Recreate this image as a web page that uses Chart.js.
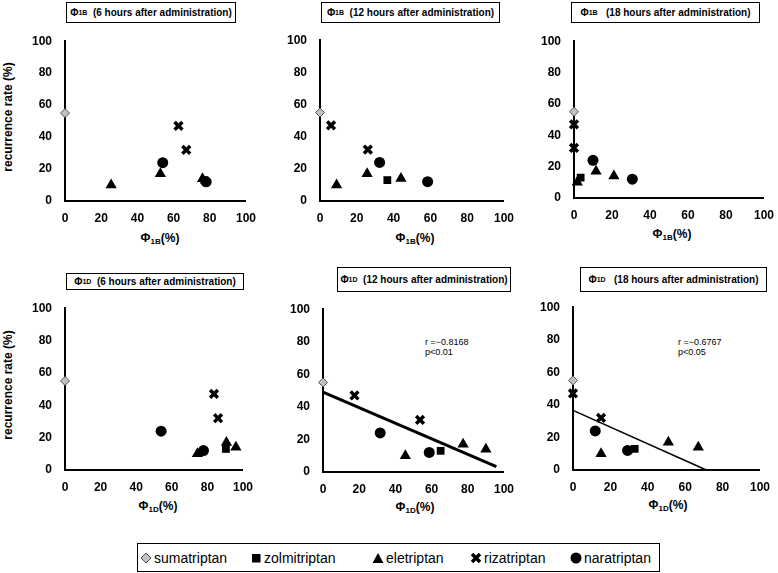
<!DOCTYPE html>
<html lang="en">
<head>
<meta charset="UTF-8" />
<title>Recurrence rate vs receptor occupancy</title>
<style>
  html, body {
    margin: 0;
    padding: 0;
    background: #fff;
    overflow: hidden;
  }
  body {
    width: 778px;
    height: 573px;
    position: relative;
    font-family: "Liberation Sans", Arial, sans-serif;
    color: #000;
  }
  canvas {
    position: absolute;
  }
  .box {
    position: absolute;
    box-sizing: border-box;
    border: 1px solid #000;
    background: #fff;
    font-weight: bold;
    font-size: 10px;
    display: flex;
    align-items: center;
    justify-content: center;
    white-space: nowrap;
  }
  sub {
    font-size: 7px;
    vertical-align: -2px;
    line-height: 0;
  }
  .xtitle {
    position: absolute;
    transform: translate(-50%, -50%);
    font-weight: bold;
    font-size: 12px;
    white-space: nowrap;
  }
  .xtitle sub {
    font-size: 8px;
  }
  .ytitle {
    position: absolute;
    transform: translate(-50%, -50%) rotate(-90deg);
    font-weight: bold;
    font-size: 12px;
    white-space: nowrap;
  }
  .note {
    position: absolute;
    font-size: 9px;
    line-height: 10px;
    white-space: nowrap;
  }
  #legend {
    position: absolute;
    left: 137px;
    top: 543px;
    width: 523px;
    height: 29px;
    box-sizing: border-box;
    border: 1.5px solid #000;
    font-size: 14px;
  }
  .item {
    position: absolute;
    top: 0;
    height: 100%;
    display: flex;
    align-items: center;
    white-space: nowrap;
  }
  .item svg {
    margin-right: 2px;
  }
</style>
</head>
<body>

<!-- panel titles -->
<div class="box" style="left:66px;top:2px;width:170px;height:21px">&Phi;<sub>1B</sub>&nbsp;&nbsp;(6 hours after administration)</div>
<div class="box" style="left:321px;top:2px;width:179px;height:21px">&Phi;<sub>1B</sub>&nbsp;&nbsp;(12 hours after administration)</div>
<div class="box" style="left:571px;top:2px;width:189px;height:21px">&Phi;<sub>1B</sub>&nbsp;&nbsp;&nbsp;(18 hours after administration)</div>
<div class="box" style="left:66px;top:273px;width:178px;height:17px">&Phi;<sub>1D</sub>&nbsp;&nbsp;(6 hours after administration)</div>
<div class="box" style="left:337px;top:267px;width:174px;height:25px">&Phi;<sub>1D</sub>&nbsp;&nbsp;(12 hours after administration)</div>
<div class="box" style="left:580px;top:267px;width:187px;height:25px">&Phi;<sub>1D</sub>&nbsp;&nbsp;&nbsp;(18 hours after administration)</div>

<!-- axis titles -->
<div class="ytitle" style="left:8px;top:117px">recurrence rate (%)</div>
<div class="ytitle" style="left:8px;top:385px">recurrence rate (%)</div>
<div class="xtitle" style="left:160px;top:238px">&Phi;<sub>1B</sub>(%)</div>
<div class="xtitle" style="left:415px;top:238px">&Phi;<sub>1B</sub>(%)</div>
<div class="xtitle" style="left:672px;top:234px">&Phi;<sub>1B</sub>(%)</div>
<div class="xtitle" style="left:158px;top:506px">&Phi;<sub>1D</sub>(%)</div>
<div class="xtitle" style="left:415px;top:507px">&Phi;<sub>1D</sub>(%)</div>
<div class="xtitle" style="left:668px;top:505px">&Phi;<sub>1D</sub>(%)</div>

<!-- correlation notes -->
<div class="note" style="left:425px;top:337px">r =&minus;0.8168<br>p&lt;0.01</div>
<div class="note" style="left:678px;top:337px">r =&minus;0.6767<br>p&lt;0.05</div>

<!-- legend -->
<div id="legend">
  <div class="item" style="left:2px"><svg width="12" height="12"><polygon points="6,1 11,6 6,11 1,6" fill="#c0c0c0" stroke="#555" stroke-width="1"/></svg>sumatriptan</div>
  <div class="item" style="left:112px"><svg width="12" height="12"><rect x="2" y="2" width="8.5" height="8.5" fill="#000"/></svg>zolmitriptan</div>
  <div class="item" style="left:234px"><svg width="12" height="12"><polygon points="6,1 11.5,11 0.5,11" fill="#000"/></svg>eletriptan</div>
  <div class="item" style="left:332px"><svg width="12" height="12"><path d="M2,2 L10,10 M10,2 L2,10" stroke="#000" stroke-width="3.5"/></svg>rizatriptan</div>
  <div class="item" style="left:432px"><svg width="12" height="12"><circle cx="6" cy="6" r="5.5" fill="#000"/></svg>naratriptan</div>
</div>

<script src="https://cdn.jsdelivr.net/npm/chart.js"></script>
<script>
  // Tick values shared by every panel
  const xTicks = [0, 20, 40, 60, 80, 100];
  const yTicks = [0, 20, 40, 60, 80, 100];

  // One entry per plotted point: which drug it belongs to and its recurrence rate (%)
  const drugNames = ['sumatriptan', 'zolmitriptan', 'eletriptan', 'rizatriptan', 'naratriptan'];
  const pointDrug = [0, 1, 2, 2, 2, 3, 3, 4, 4];
  const recurrence = [55, 13, 10, 17, 14, 47, 32, 24, 12];

  // Receptor occupancy (%) of each point, per panel
  const phi1B6h = [0, 77, 25.5, 52.7, 76, 62.7, 67, 54, 78];
  const phi1B12h = [0, 36.6, 9, 25.6, 44, 6, 26, 32.4, 58.5];
  const phi1B18h = [0, 3.5, 1.7, 11.6, 21, 0, 0, 10, 30.7];
  const phi1D6h = [0, 90.4, 74.4, 90.7, 96, 83.7, 86, 54, 77.8];
  const phi1D12h = [0, 65, 45.5, 77.4, 90, 17.4, 53.6, 31.6, 58.7];
  const phi1D18h = [0, 33, 15, 51, 67, 0, 15, 11.9, 29.2];

  // Regression lines (end points)
  const fit1D12hX = [0, 95.8];
  const fit1D12hY = [49, 3.3];
  const fit1D18hX = [0, 71.3];
  const fit1D18hY = [36.6, 0];

  // Marker look per drug
  const markerStyles = [
    { pointStyle: 'rectRot', pointRadius: 4.5, backgroundColor: '#c0c0c0', borderColor: '#555', borderWidth: 1 },
    { pointStyle: 'rect', pointRadius: 5.5, backgroundColor: '#000', borderColor: '#000', borderWidth: 0 },
    { pointStyle: 'triangle', pointRadius: 6.5, backgroundColor: '#000', borderColor: '#000', borderWidth: 0 },
    { pointStyle: 'crossRot', pointRadius: 5.5, backgroundColor: '#000', borderColor: '#000', borderWidth: 3.5 },
    { pointStyle: 'circle', pointRadius: 5.5, backgroundColor: '#000', borderColor: '#000', borderWidth: 0 }
  ];

  // Plot areas in page pixels: left, right, top, bottom
  const panels = [
    { phi: phi1B6h, area: [65, 248, 33, 201] },
    { phi: phi1B12h, area: [320, 506, 32, 201] },
    { phi: phi1B18h, area: [574, 766, 33, 198] },
    { phi: phi1D6h, area: [65, 245, 300, 470] },
    { phi: phi1D12h, area: [323, 506, 301, 472], fitX: fit1D12hX, fitY: fit1D12hY, fitWidth: 3 },
    { phi: phi1D18h, area: [573, 762, 299, 470], fitX: fit1D18hX, fitY: fit1D18hY, fitWidth: 1.5 }
  ];

  const Y_W = 45, PAD_T = 12, PAD_R = 18, X_H = 26;
  const tickFont = { family: '"Liberation Sans", Arial, sans-serif', size: 12, weight: 'bold' };

  function buildDatasets(panel) {
    const sets = drugNames.map((name, d) => {
      const pts = [];
      pointDrug.forEach((pd, i) => {
        if (pd === d) pts.push({ x: panel.phi[i], y: recurrence[i] });
      });
      return Object.assign({ label: name, data: pts, order: 4 - d, clip: false }, markerStyles[d]);
    });
    if (panel.fitX) {
      sets.push({
        label: 'fit',
        data: panel.fitX.map((x, i) => ({ x, y: panel.fitY[i] })),
        showLine: true,
        pointRadius: 0,
        borderColor: '#000',
        borderWidth: panel.fitWidth,
        order: 10,
        clip: false
      });
    }
    return sets;
  }

  panels.forEach(panel => {
    const [l, r, t, b] = panel.area;
    const canvas = document.createElement('canvas');
    const w = (r - l) + Y_W + PAD_R;
    const h = (b - t) + PAD_T + X_H;
    canvas.width = w;
    canvas.height = h;
    canvas.style.left = (l - Y_W) + 'px';
    canvas.style.top = (t - PAD_T) + 'px';
    canvas.style.width = w + 'px';
    canvas.style.height = h + 'px';
    document.body.appendChild(canvas);

    new Chart(canvas, {
      type: 'scatter',
      data: { datasets: buildDatasets(panel) },
      options: {
        responsive: false,
        animation: false,
        devicePixelRatio: 1,
        layout: { padding: { top: PAD_T, right: PAD_R, left: 0, bottom: 0 } },
        plugins: { legend: { display: false }, tooltip: { enabled: false } },
        scales: {
          x: {
            type: 'linear',
            min: 0,
            max: 100,
            afterFit: s => { s.height = X_H; },
            afterBuildTicks: s => { s.ticks = xTicks.map(v => ({ value: v })); },
            grid: { display: false, drawTicks: false },
            border: { display: true, color: '#000', width: 2 },
            ticks: { color: '#000', font: tickFont, padding: 10, maxRotation: 0 }
          },
          y: {
            min: 0,
            max: 100,
            afterFit: s => { s.width = Y_W; },
            afterBuildTicks: s => { s.ticks = yTicks.map(v => ({ value: v })); },
            grid: { display: false, drawTicks: false },
            border: { display: true, color: '#000', width: 2 },
            ticks: { color: '#000', font: tickFont, padding: 13 }
          }
        }
      }
    });
  });
</script>

</body>
</html>
